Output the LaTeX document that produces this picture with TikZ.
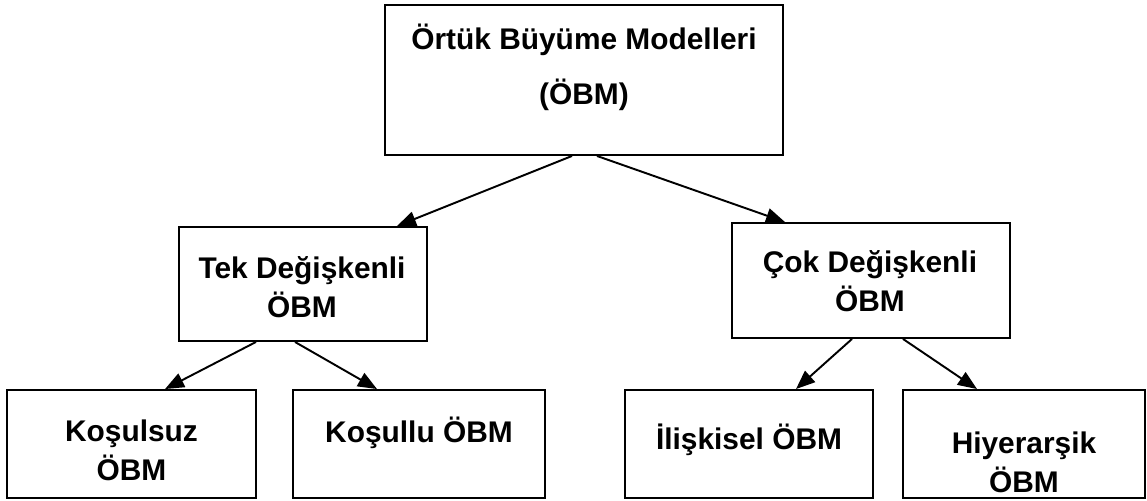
\documentclass[tikz,border=0pt]{standalone}
\usepackage{fontspec}
\setmainfont{Liberation Sans}
\usetikzlibrary{positioning, arrows.meta}

\begin{document}
\begin{tikzpicture}[
    % GLOBAL CFG
    font=\bfseries\fontsize{17}{22}\selectfont,
    >={Triangle[length=0.38cm, width=0.3cm]},
    % Styles
    modelbox/.style={
        rectangle,
        draw,
        line width=1.1pt,
        fill=white,
        inner sep=0pt,
    },
    boxlabel/.style={
        anchor=base,
        align=center,
        inner sep=0pt,
    },
    ArrowT/.style={
        ->,
        line width=1.1pt,
    },
]

% Page area
\useasboundingbox[fill=white] (0,0) rectangle (22.94,-10.02);

    % Draw the boxes
    \node [modelbox, minimum width=7.96cm, minimum height=3cm] (obm) at (11.68,-1.6) {};
    \node [modelbox, minimum width=4.96cm, minimum height=2.28cm] (tek) at (6.06,-5.68) {};
    \node [modelbox, minimum width=5.56cm, minimum height=2.3cm] (cok) at (17.42,-5.61) {};
    \node [modelbox, minimum width=4.98cm, minimum height=2.16cm] (kosulsuz) at (2.63,-8.88) {};
    \node [modelbox, minimum width=5.04cm, minimum height=2.16cm] (kosullu) at (8.38,-8.88) {};
    \node [modelbox, minimum width=4.96cm, minimum height=2.16cm] (iliskisel) at (14.98,-8.88) {};
    \node [modelbox, minimum width=4.84cm, minimum height=2.16cm] (hiyerarsik) at (20.48,-8.88) {};

    % Draw the texts (base = last line)
    \node [boxlabel] (obmT) at (11.68,-2.1) {Örtük Büyüme Modelleri\\[9.3pt](ÖBM)};
    \node [boxlabel] (tekT) at (6.04,-6.34) {Tek Değişkenli\\ÖBM};
    \node [boxlabel] (cokT) at (17.4,-6.22) {Çok Değişkenli\\ÖBM};
    \node [boxlabel] (kosulsuzT) at (2.63,-9.6) {Koşulsuz\\ÖBM};
    \node [boxlabel] (kosulluT) at (8.38,-8.84) {Koşullu ÖBM};
    \node [boxlabel] (iliskiselT) at (14.98,-8.98) {İlişkisel ÖBM};
    \node [boxlabel] (hiyerarsikT) at (20.48,-9.84) {Hiyerarşik\\ÖBM};

% Connect all
    \draw [ArrowT] ([xshift=-0.24cm]obm.south) -- ([xshift=1.88cm]tek.north);
    \draw [ArrowT] ([xshift=0.26cm]obm.south) -- ([xshift=-1.72cm]cok.north);

    \draw [ArrowT] ([xshift=-0.94cm]tek.south) -- ([xshift=0.67cm]kosulsuz.north);
    \draw [ArrowT] ([xshift=-0.16cm]tek.south) -- ([xshift=-0.84cm]kosullu.north);

    \draw [ArrowT] ([xshift=-0.38cm]cok.south) -- ([xshift=0.94cm]iliskisel.north);
    \draw [ArrowT] ([xshift=0.64cm]cok.south) -- ([xshift=-0.94cm]hiyerarsik.north);

\end{tikzpicture}
\end{document}
